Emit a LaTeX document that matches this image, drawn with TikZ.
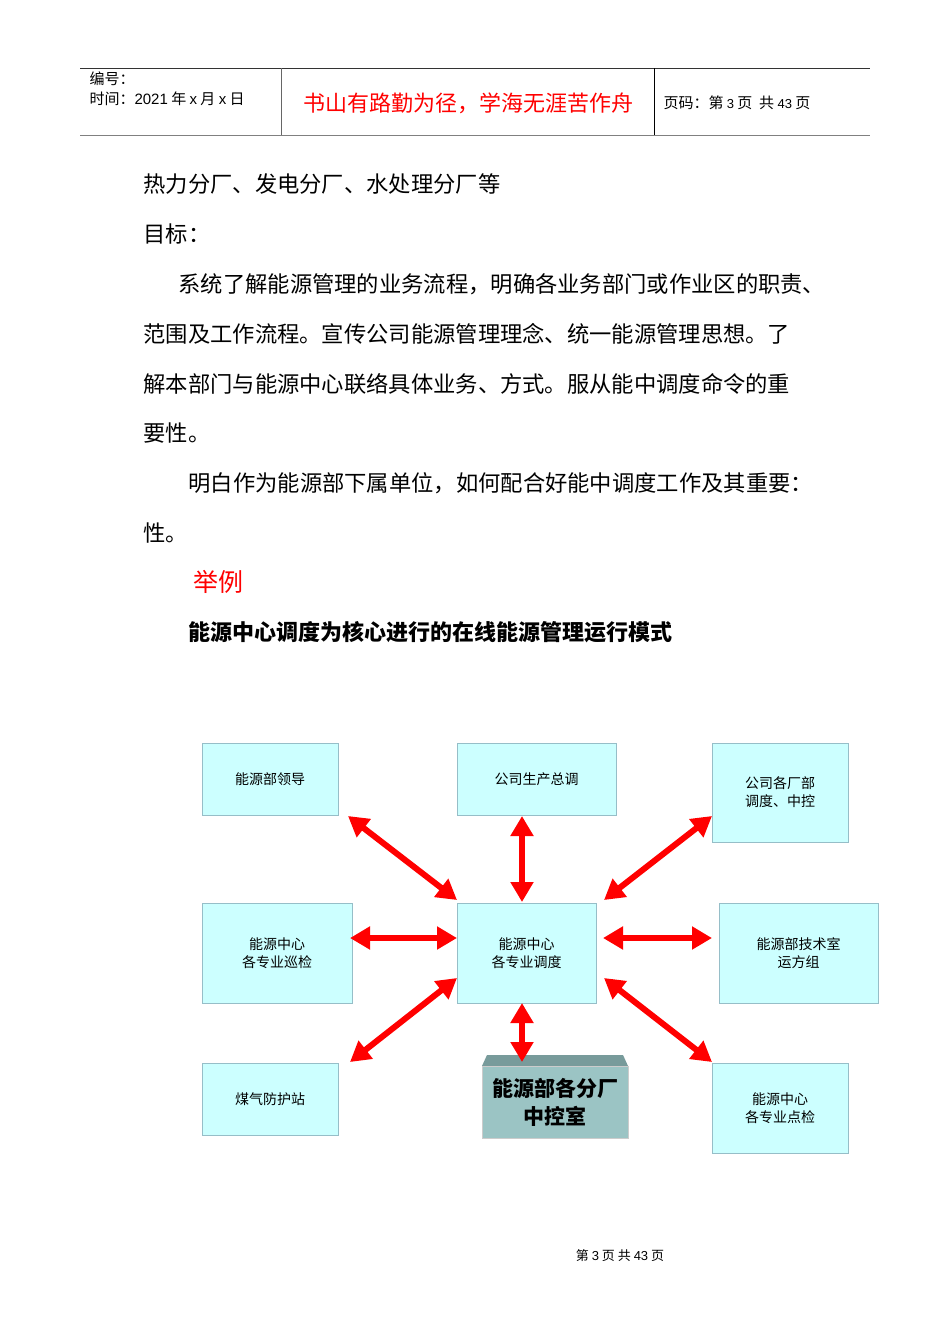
\documentclass[tikz,border=0pt]{standalone}
\usepackage{fontspec}
\setmainfont{Noto Sans CJK SC}
\newfontfamily\lat{Liberation Sans}
\usetikzlibrary{arrows.meta}
\definecolor{boxc}{RGB}{204,255,255}
\definecolor{boxl}{RGB}{150,190,200}
\definecolor{ctrl}{RGB}{155,196,196}
\definecolor{ctrltop}{RGB}{120,155,155}
\begin{document}
\begin{tikzpicture}[x=1pt,y=-1pt,
  bx/.style={draw=boxl,fill=boxc,line width=0.6pt,font=\fontsize{14}{18}\selectfont,align=center},
  rarr/.style={red,line width=6pt,{Triangle[length=20pt,width=22pt]}-{Triangle[length=20pt,width=22pt]}},
  body/.style={anchor=west,font=\fontsize{22.3}{24}\selectfont}]
\useasboundingbox[fill=white] (0,0) rectangle (950,1344);
% header
\draw[line width=0.8pt,black!80] (80,68) -- (870,68);
\draw[line width=1pt,black!50] (80,135) -- (870,135);
\draw[black!60] (281,68) -- (281,135);
\draw (654,68) -- (654,135);
\node[anchor=west,font=\fontsize{15}{17}\selectfont] (h1) at (86,79) {编号：};
\node[anchor=west,font=\fontsize{15}{17}\selectfont] (h2) at (86,99) {时间：{\lat 2021} 年 {\lat x} 月 {\lat x} 日};
\node[red,font=\fontsize{22}{24}\selectfont] (h3) at (468,103) {书山有路勤为径，学海无涯苦作舟};
\node[anchor=west,font=\fontsize{15}{17}\selectfont] (h4) at (660,103) {页码：第 {\lat\fontsize{13}{15}\selectfont 3} 页\ \ 共 {\lat\fontsize{13}{15}\selectfont 43} 页};
% body
\node[body] (t1) at (140,184) {热力分厂、发电分厂、水处理分厂等};
\node[body] (t2) at (140,234) {目标：};
\node[body] (t3) at (175,284) {系统了解能源管理的业务流程，明确各业务部门或作业区的职责、};
\node[body] (t4) at (140,334) {范围及工作流程。宣传公司能源管理理念、统一能源管理思想。了};
\node[body] (t5) at (140,384) {解本部门与能源中心联络具体业务、方式。服从能中调度命令的重};
\node[body] (t6) at (140,433) {要性。};
\node[body] (t7) at (185,483) {明白作为能源部下属单位，如何配合好能中调度工作及其重要：};
\node[body] (t8) at (140,533) {性。};
\node[body,red,font=\fontsize{25}{27}\selectfont] (t9) at (190,582) {举例};
\node[body,font=\fontsize{22}{24}\selectfont\bfseries] (t10) at (185,632) {能源中心调度为核心进行的在线能源管理运行模式};
% boxes
\node[bx,minimum width=136pt,minimum height=72pt] (A) at (270,779) {能源部领导};
\node[bx,minimum width=159pt,minimum height=72pt] (B) at (536.5,779) {公司生产总调};
\node[bx,minimum width=136pt,minimum height=99pt] (C) at (780,792.5) {公司各厂部\\调度、中控};
\node[bx,minimum width=150pt,minimum height=100pt] (D) at (277,953) {能源中心\\各专业巡检};
\node[bx,minimum width=139pt,minimum height=100pt] (E) at (526.5,953) {能源中心\\各专业调度};
\node[bx,minimum width=159pt,minimum height=100pt] (F) at (798.5,953) {能源部技术室\\运方组};
\node[bx,minimum width=136pt,minimum height=72pt] (G) at (270,1099) {煤气防护站};
\node[bx,minimum width=136pt,minimum height=90pt] (I) at (780,1108) {能源中心\\各专业点检};
\fill[fill=ctrltop] (482,1066) -- (487,1055) -- (623,1055) -- (628,1066) -- cycle;
\node[draw=black!20,fill=ctrl,minimum width=146pt,minimum height=72pt,inner sep=0pt,
  font=\fontsize{21}{28}\selectfont\bfseries,align=center] (H) at (555,1102) {能源部各分厂\\中控室};
% arrow endpoints
\coordinate (a1) at (348,816); \coordinate (a2) at (457,900);
\coordinate (b1) at (522,816); \coordinate (b2) at (522,902);
\coordinate (c1) at (712,816); \coordinate (c2) at (604,900);
\coordinate (d1) at (350,938); \coordinate (d2) at (457,938);
\coordinate (f1) at (603,938); \coordinate (f2) at (712,938);
\coordinate (g1) at (350,1062); \coordinate (g2) at (457,978);
\coordinate (h1c) at (522,1003); \coordinate (h2c) at (522,1062);
\coordinate (i1) at (604,978); \coordinate (i2) at (712,1062);
\draw[rarr] (a1) -- (a2);
\draw[rarr] (b1) -- (b2);
\draw[rarr] (c1) -- (c2);
\draw[rarr] (d1) -- (d2);
\draw[rarr] (f1) -- (f2);
\draw[rarr] (g1) -- (g2);
\draw[rarr] (h1c) -- (h2c);
\draw[rarr] (i1) -- (i2);
% footer
\node[font=\fontsize{13}{15}\selectfont] (ft) at (620,1256) {第 {\lat 3} 页 共 {\lat 43} 页};
\end{tikzpicture}
\end{document}
